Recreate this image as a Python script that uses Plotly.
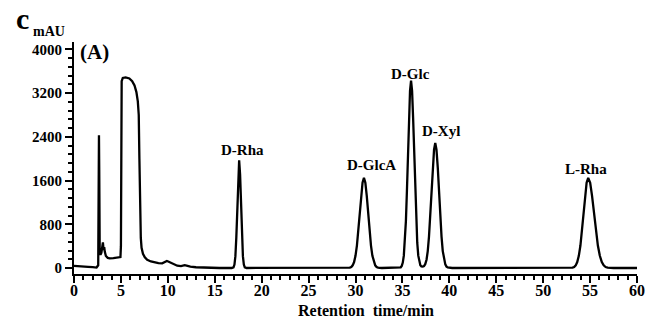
import plotly.graph_objects as go

# Retention time (min) and absorbance (mAU)
t_early = [0, 0.5, 1.0, 1.5, 2.0, 2.4, 2.58, 2.63, 2.66, 2.69, 2.74, 2.82, 2.92, 3.0, 3.08, 3.15, 3.22, 3.28,
           3.4, 3.6, 3.8, 4.2, 4.6, 4.95, 5.0, 5.03, 5.08, 5.2, 5.5, 5.9, 6.2, 6.45, 6.65, 6.8, 6.9, 6.97,
           7.05, 7.12, 7.2, 7.35, 7.55, 7.8, 8.2, 8.6, 9.0, 9.4, 9.7, 9.9, 10.1, 10.3, 10.6, 11.0, 11.4,
           11.8, 12.0, 12.4, 13.0, 13.6, 14.5, 15.5]
a_early = [40, 38, 32, 22, 14, 8, 50, 1800, 2430, 1800, 300, 240, 280, 400, 470, 330, 380, 300,
           220, 185, 175, 180, 190, 200, 400, 2500, 3420, 3480, 3490, 3470, 3420, 3340, 3220, 3050, 2800, 2000,
           1000, 550, 370, 260, 195, 150, 120, 100, 90, 85, 110, 128, 115, 100, 65, 42, 35,
           52, 45, 25, 14, 8, 3, 0]

t_rha = [16.8, 17.0, 17.1, 17.2, 17.3, 17.4, 17.5, 17.6, 17.7, 17.8, 17.9, 18.0, 18.1, 18.2, 18.4]
a_rha = [0, 13, 62, 217, 566, 1134, 1715, 1970, 1715, 1134, 566, 217, 62, 13, 0]

t_glca = [29.0, 29.4, 29.55, 29.7, 29.85, 30.0, 30.15, 30.3, 30.45, 30.6, 30.75, 30.9, 31.05, 31.2,
          31.35, 31.5, 31.65, 31.8, 31.95, 32.1, 32.25, 32.4, 32.8]
a_glca = [0, 6, 18, 48, 109, 223, 411, 678, 1001, 1321, 1561, 1650, 1561, 1321,
          1001, 678, 411, 223, 109, 48, 18, 6, 0]

t_glc_xyl = [34.4, 34.82, 34.93, 35.04, 35.15, 35.26, 35.37, 35.48, 35.59, 35.70, 35.81, 35.92, 36.03,
             36.14, 36.25, 36.36, 36.47, 36.58, 36.69, 36.80, 36.91, 37.02, 37.17, 37.30, 37.43, 37.57,
             37.70, 37.83, 37.97, 38.10, 38.23, 38.37, 38.50, 38.63, 38.77, 38.90, 39.03, 39.17, 39.30,
             39.43, 39.57, 39.70, 39.83, 40.3]
a_glc_xyl = [0, 13, 38, 99, 226, 463, 854, 1410, 2082, 2747, 3245, 3430, 3245,
             2747, 2082, 1410, 854, 463, 226, 110, 50, 30, 25, 35, 70, 151,
             309, 570, 941, 1390, 1834, 2166, 2290, 2166, 1834, 1390, 941, 570, 309,
             151, 66, 25, 9, 0]

t_lrha = [52.5, 53.13, 53.30, 53.47, 53.63, 53.80, 53.97, 54.13, 54.30, 54.47, 54.63, 54.80, 55.01,
          55.21, 55.42, 55.63, 55.83, 56.04, 56.25, 56.45, 56.66, 56.87, 57.5, 60.0]
a_lrha = [0, 6, 18, 48, 109, 223, 411, 678, 1001, 1321, 1561, 1650, 1561,
          1321, 1001, 678, 411, 223, 109, 48, 18, 6, 0, 0]

peak_names = ["D-Rha", "D-GlcA", "D-Glc", "D-Xyl", "L-Rha"]
label_t = [17.97, 31.7, 35.83, 39.14, 54.53]
label_a = [2160, 1886, 3551, 2508, 1812]

y_ticks = [0, 800, 1600, 2400, 3200, 4000]
x_ticks = [0, 5, 10, 15, 20, 25, 30, 35, 40, 45, 50, 55, 60]

t_all = t_early + t_rha + t_glca + t_glc_xyl + t_lrha
a_all = a_early + a_rha + a_glca + a_glc_xyl + a_lrha

SERIF = "Liberation Serif"
L, R, T, B, W, H = 74, 12, 42, 48, 657, 322
PW, PH = W - L - R, H - T - B


def px(x):
    return (x - L) / PW


def py(y):
    return (H - B - y) / PH


fig = go.Figure()
fig.add_trace(go.Scatter(x=t_all, y=a_all, mode="lines",
                         line=dict(color="black", width=2.3), hoverinfo="skip",
                         showlegend=False))

for name, tx, ay in zip(peak_names, label_t, label_a):
    fig.add_annotation(x=tx, y=ay, xref="x", yref="y", text=name, showarrow=False,
                       font=dict(family=SERIF, size=15, color="black", weight="bold"))

fig.add_annotation(x=px(95), y=py(52), xref="paper", yref="paper", text="(A)", showarrow=False,
                   xanchor="center", yanchor="middle",
                   font=dict(family=SERIF, size=21, color="black", weight="bold"))
fig.add_annotation(x=px(49), y=py(31), xref="paper", yref="paper", text="mAU",
                   showarrow=False, xanchor="center", yanchor="middle",
                   font=dict(family=SERIF, size=14, color="black", weight="bold"))
fig.add_annotation(x=px(22), y=py(18), xref="paper", yref="paper", text="c",
                   showarrow=False, xanchor="center", yanchor="middle",
                   font=dict(family=SERIF, size=30, color="black", weight="bold"))
fig.add_annotation(x=px(370), y=py(310), xref="paper", yref="paper", text="Retention  time/min",
                   showarrow=False, xanchor="center", yanchor="middle",
                   font=dict(family=SERIF, size=16, color="black", weight="bold"))

fig.update_layout(
    width=W, height=H,
    margin=dict(l=L, r=R, t=T, b=B),
    paper_bgcolor="white", plot_bgcolor="white",
    xaxis=dict(range=[0, 60], tickvals=x_ticks, showline=True, linecolor="black", linewidth=2,
               ticks="outside", ticklen=7, tickwidth=2, tickcolor="black", ticklabelstandoff=-6,
               minor=dict(dtick=1, tick0=0, ticks="outside", ticklen=4, tickwidth=1.5, tickcolor="black"),
               showgrid=False, zeroline=False,
               tickfont=dict(family=SERIF, size=16, color="black", weight="bold")),
    yaxis=dict(range=[-110, 4137], tickvals=y_ticks, showline=True, linecolor="black", linewidth=2,
               ticks="outside", ticklen=7, tickwidth=2, tickcolor="black",
               minor=dict(dtick=160, tick0=0, ticks="outside", ticklen=4, tickwidth=1.5, tickcolor="black"),
               showgrid=False, zeroline=False,
               tickfont=dict(family=SERIF, size=15, color="black", weight="bold")),
)

fig.write_html("out.html")
